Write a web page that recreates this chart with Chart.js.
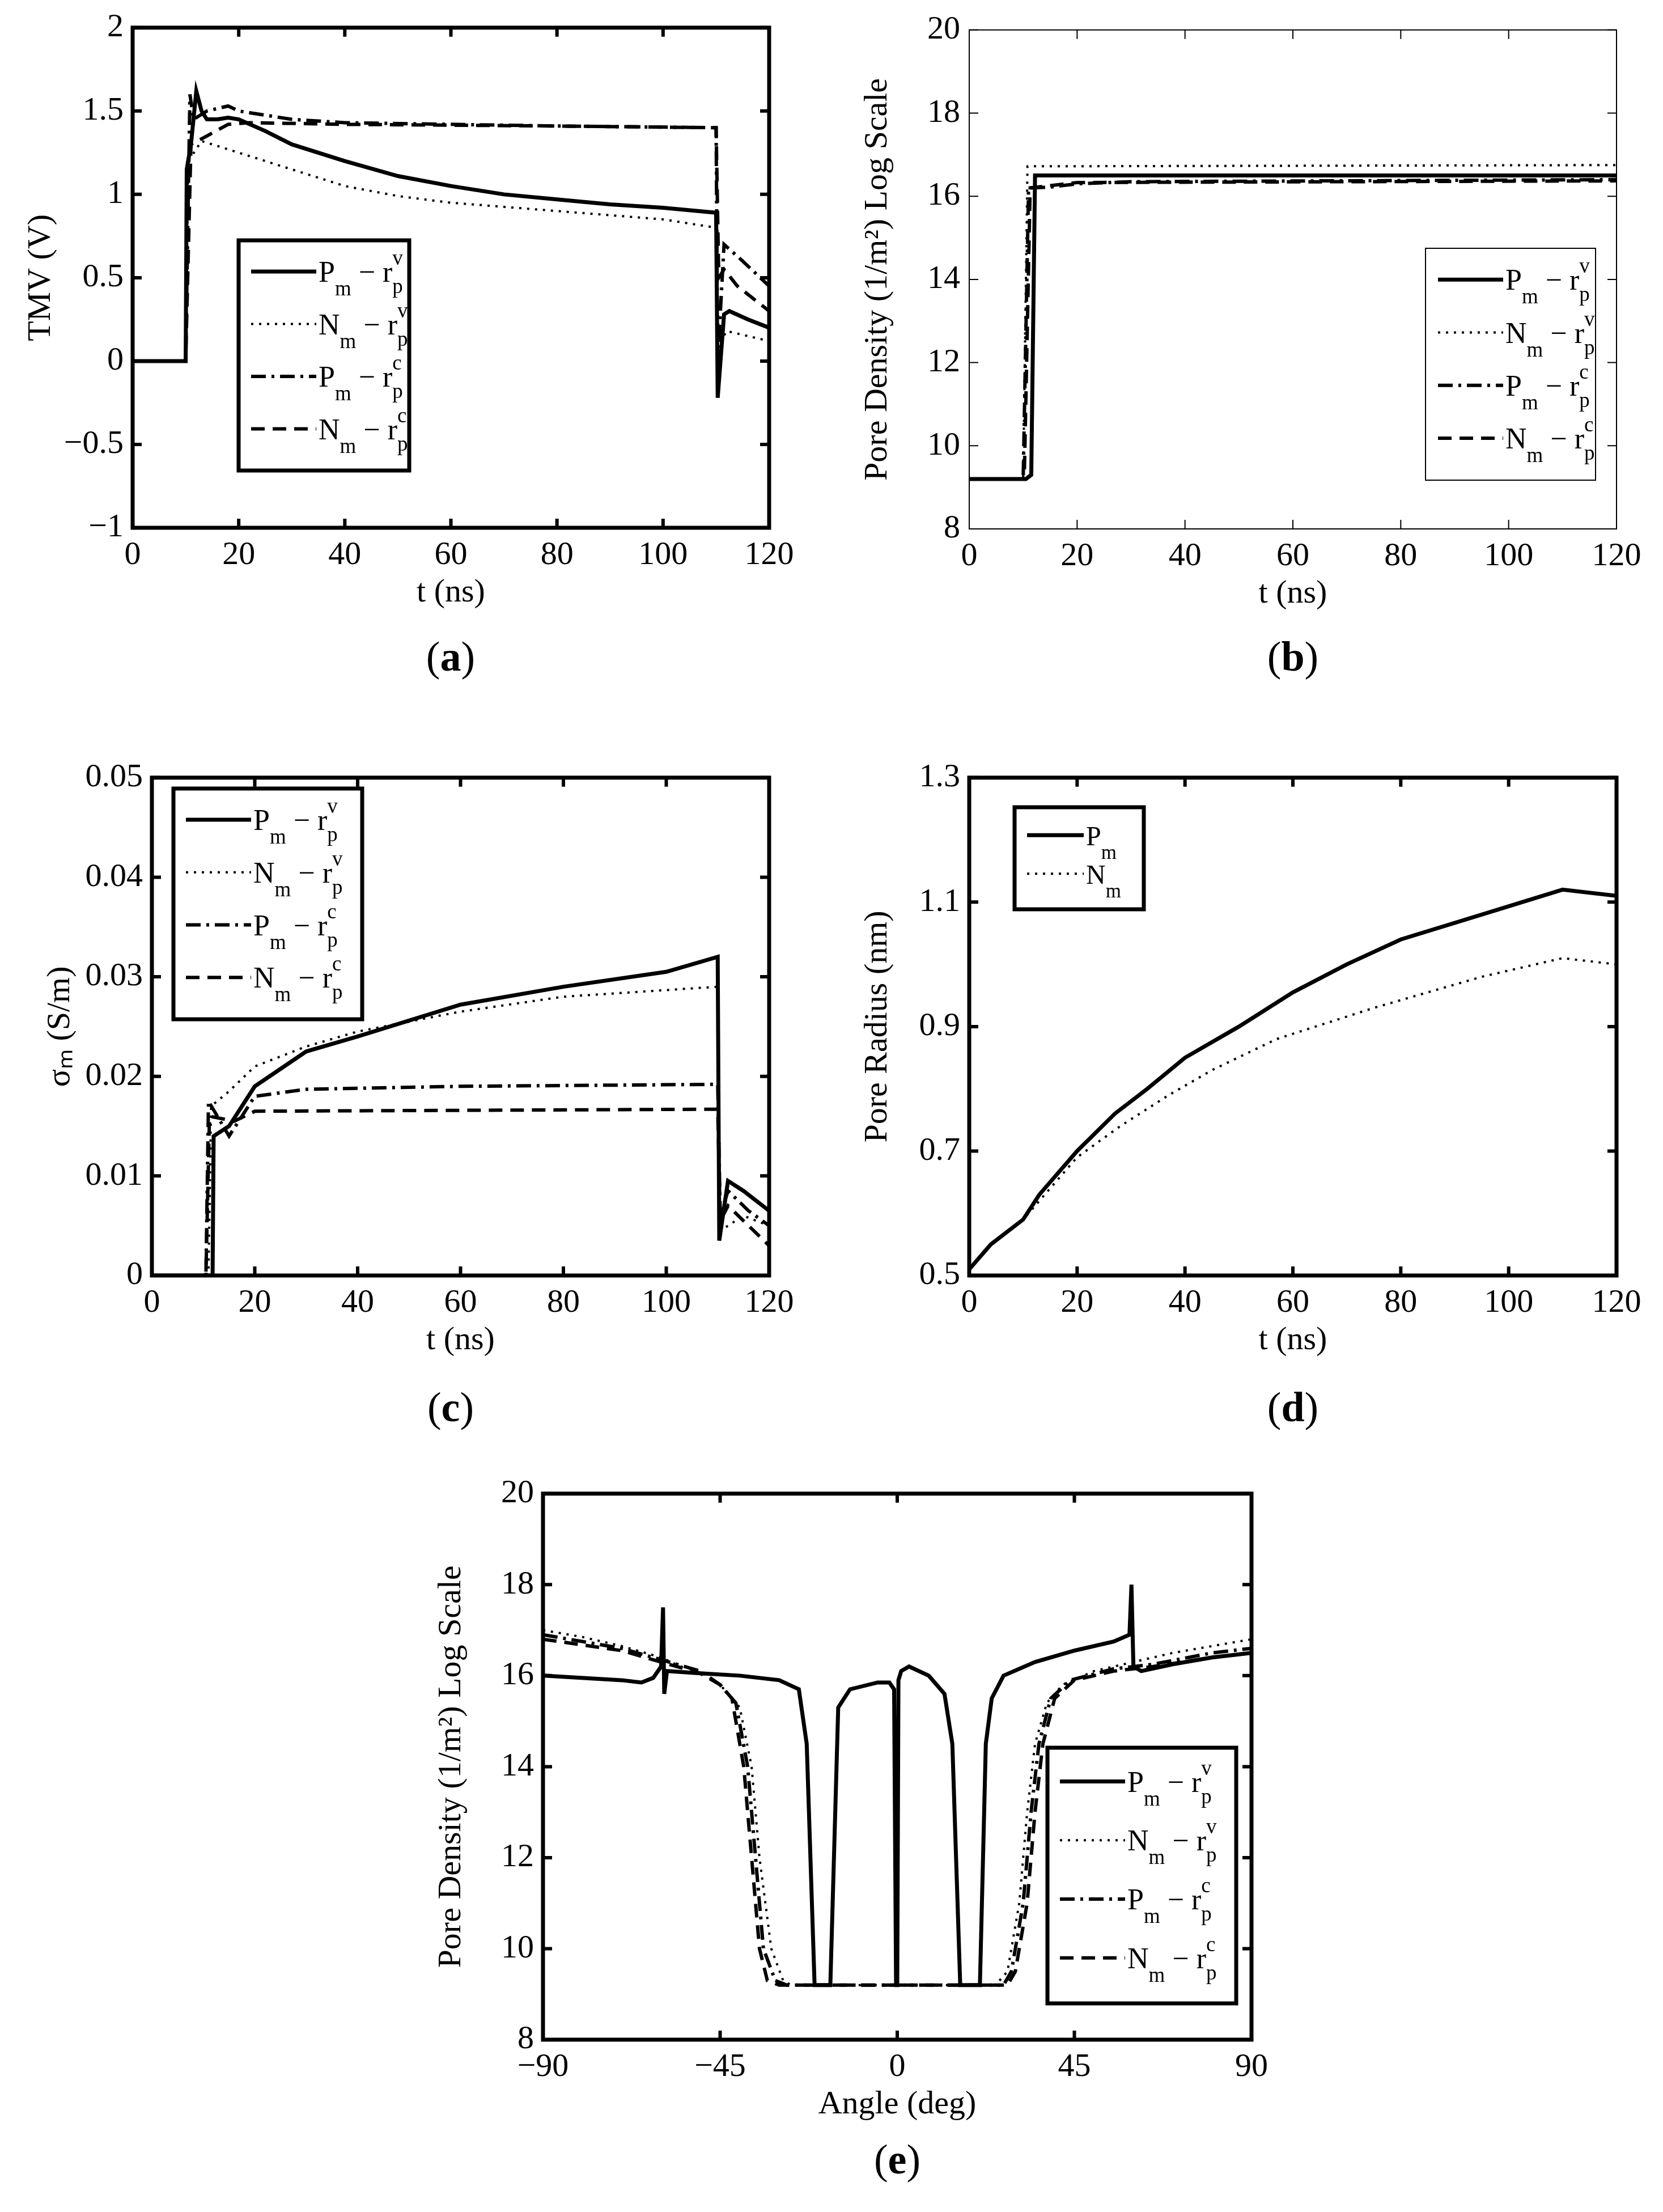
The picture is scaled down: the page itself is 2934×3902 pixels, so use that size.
<!DOCTYPE html>
<html>
<head>
<meta charset="utf-8">
<script src="https://cdn.jsdelivr.net/npm/chart.js@4.4.1/dist/chart.umd.min.js"></script>
<style>
  body { margin: 0; background: #fff; width: 2934px; height: 3902px; position: relative; overflow: hidden; }
  canvas { position: absolute; }
  .lbl { position: absolute; font-family: "Liberation Serif", serif; font-size: 74px; line-height: 90px; transform: translateX(-50%); }
</style>
</head>
<body>
<div class="lbl" style="left:795px;top:1113px">(<b>a</b>)</div>
<div class="lbl" style="left:2281px;top:1113px">(<b>b</b>)</div>
<div class="lbl" style="left:795px;top:2437px">(<b>c</b>)</div>
<div class="lbl" style="left:2281px;top:2437px">(<b>d</b>)</div>
<div class="lbl" style="left:1583px;top:3764px">(<b>e</b>)</div>
<script>
// ---- data ----
// (a) TMV (V) vs t (ns)
const aPvT = [0, 10, 10.2, 11, 12, 13, 14, 16, 18, 20, 25, 30, 40, 50, 60, 70, 80, 90, 100, 110, 110.3, 111.5, 112.5, 116, 120];
const aPvY = [0, 0, 1.15, 1.3, 1.62, 1.5, 1.45, 1.45, 1.46, 1.45, 1.38, 1.3, 1.2, 1.11, 1.05, 1.0, 0.97, 0.94, 0.92, 0.89, -0.22, 0.28, 0.3, 0.25, 0.2];
const aNvT = [0, 10, 10.5, 13, 15, 20, 30, 40, 50, 60, 80, 100, 110, 110.5, 112, 116, 120];
const aNvY = [0, 0, 1.2, 1.32, 1.3, 1.25, 1.15, 1.05, 0.99, 0.95, 0.9, 0.85, 0.8, 0.1, 0.18, 0.15, 0.12];
const aPcT = [0, 10, 10.8, 11.5, 14, 18, 20, 30, 40, 60, 80, 110, 110.3, 111.5, 115, 120];
const aPcY = [0, 0, 1.6, 1.45, 1.5, 1.53, 1.5, 1.45, 1.43, 1.42, 1.41, 1.4, 0.0, 0.7, 0.6, 0.45];
const aNcT = [0, 10, 11, 14, 18, 22, 40, 80, 110, 110.5, 111.5, 114, 120];
const aNcY = [0, 0, 1.3, 1.35, 1.42, 1.43, 1.42, 1.41, 1.4, 0.5, 0.55, 0.45, 0.3];

// (b) pore density (log) vs t (ns)
const bPvT = [0, 10.5, 11.5, 12.2, 120];
const bPvY = [9.2, 9.2, 9.3, 16.5, 16.5];
const bNvT = [0, 10, 10.8, 120];
const bNvY = [9.2, 9.2, 16.72, 16.75];
const bPcT = [0, 10, 11, 15, 20, 30, 120];
const bPcY = [9.2, 9.2, 16.2, 16.22, 16.3, 16.35, 16.4];
const bNcT = [0, 10.2, 11.3, 20, 120];
const bNcY = [9.2, 9.2, 16.2, 16.33, 16.37];

// (c) sigma_m (S/m) vs t (ns)
const cPvT = [0, 11.8, 12, 15, 20, 30, 40, 60, 80, 100, 110, 110.3, 112, 115, 120];
const cPvY = [0, 0, 0.014, 0.015, 0.019, 0.0225, 0.024, 0.0272, 0.029, 0.0305, 0.032, 0.0035, 0.0095, 0.0085, 0.0065];
const cNvT = [0, 11, 11.5, 15, 20, 30, 40, 60, 80, 110, 110.5, 115, 120];
const cNvY = [0, 0, 0.017, 0.0185, 0.021, 0.023, 0.0245, 0.0265, 0.028, 0.029, 0.0045, 0.006, 0.005];
const cPcT = [0, 10.5, 11, 15, 20, 30, 60, 110, 110.5, 112, 116, 120];
const cPcY = [0, 0, 0.0175, 0.014, 0.018, 0.0187, 0.019, 0.0192, 0.006, 0.0085, 0.0065, 0.005];
const cNcT = [0, 10.5, 11.2, 16, 20, 110, 110.5, 112, 120];
const cNcY = [0, 0, 0.016, 0.0155, 0.0165, 0.0167, 0.0055, 0.007, 0.003];

// (d) pore radius (nm) vs t (ns)
const dPT = [0, 4, 10, 13, 20, 27, 33, 40, 50, 60, 70, 80, 95, 110, 120];
const dPY = [0.51, 0.55, 0.59, 0.63, 0.7, 0.76, 0.8, 0.85, 0.9, 0.955, 1.0, 1.04, 1.08, 1.12, 1.11];
const dNT = [0, 4, 10, 15, 20, 28, 37, 45, 57, 75, 95, 110, 120];
const dNY = [0.51, 0.55, 0.59, 0.64, 0.69, 0.74, 0.79, 0.83, 0.88, 0.93, 0.98, 1.01, 1.0];

// (e) pore density (log) vs angle (deg)
const ePvA = [-90, -70, -65, -62, -60, -59.5, -59.2, -58.5, -50, -40, -30, -25, -23, -21, -17, -15, -12, -5, -2, -0.8, -0.3, 0, 0.3, 1, 3, 8, 12, 14, 16, 21, 22.5, 24, 27, 35, 45, 55, 59, 59.5, 60, 62, 70, 80, 90];
const ePvY = [16.0, 15.9, 15.85, 15.95, 16.2, 17.5, 15.6, 16.1, 16.05, 16.0, 15.9, 15.7, 14.5, 9.2, 9.2, 15.3, 15.7, 15.85, 15.85, 15.7, 9.2, 9.2, 15.9, 16.1, 16.2, 16.0, 15.6, 14.5, 9.2, 9.2, 14.5, 15.5, 16.0, 16.3, 16.55, 16.75, 16.9, 18.0, 16.2, 16.1, 16.25, 16.4, 16.5];
const eNvA = [-90, -80, -70, -60, -55, -50, -45, -40, -37, -35, -32, -29, -27, 25, 28, 31, 33, 35, 38, 42, 50, 60, 70, 80, 90];
const eNvY = [17.0, 16.85, 16.65, 16.4, 16.2, 16.1, 15.8, 15.3, 14, 12, 10, 9.3, 9.2, 9.2, 9.5, 11, 13, 14.5, 15.4, 15.8, 16.1, 16.3, 16.5, 16.65, 16.8];
const ePcA = [-90, -70, -60, -50, -45, -41, -38, -36, -34, -31, -28, 27, 29, 32, 34, 36, 39, 44, 55, 65, 80, 90];
const ePcY = [16.9, 16.6, 16.35, 16.1, 15.8, 15.4, 14, 12, 10, 9.3, 9.2, 9.2, 9.5, 11, 13, 14.5, 15.5, 15.9, 16.15, 16.25, 16.5, 16.6];
const eNcA = [-90, -70, -60, -50, -45, -42, -39, -37, -35, -33, -30, 28, 30, 33, 35, 37, 40, 45, 55, 65, 80, 90];
const eNcY = [16.8, 16.55, 16.3, 16.05, 15.8, 15.5, 14, 12, 10, 9.3, 9.2, 9.2, 9.5, 11, 13, 14.5, 15.5, 15.9, 16.1, 16.2, 16.4, 16.5];

// ---- styles ----
const FONT = '"Liberation Serif", serif';
const STY = {
  solid:   { borderWidth: 7, borderDash: [] },
  dotted:  { borderWidth: 4, borderDash: [4, 10] },
  dashdot: { borderWidth: 6, borderDash: [26, 10, 5, 10] },
  dashed:  { borderWidth: 6, borderDash: [24, 14] }
};
const LEG4 = [
  { s: 'solid', main: 'P', lead: ' \u2212 r', sup: 'v' },
  { s: 'dotted', main: 'N', lead: ' \u2212 r', sup: 'v' },
  { s: 'dashdot', main: 'P', lead: ' \u2212 r', sup: 'c' },
  { s: 'dashed', main: 'N', lead: ' \u2212 r', sup: 'c' }
];
const LEG2 = [
  { s: 'solid', main: 'P' },
  { s: 'dotted', main: 'N' }
];

function pts(xs, ys) { return xs.map((x, i) => ({ x, y: ys[i] })); }
function ds(xs, ys, s) {
  return Object.assign({ data: pts(xs, ys), borderColor: '#000', pointRadius: 0, tension: 0, fill: false }, STY[s]);
}

const framePlugin = {
  id: 'frame',
  afterDatasetsDraw(chart, args, opts) {
    const ctx = chart.ctx, a = chart.chartArea;
    const fw = opts.frameWidth || 7;
    ctx.save();
    ctx.strokeStyle = '#000';
    ctx.setLineDash([]);
    ctx.lineWidth = fw > 4 ? 6 : 2;
    const tl = 16;
    chart.scales.x.ticks.forEach(t => {
      const px = chart.scales.x.getPixelForValue(t.value);
      ctx.beginPath(); ctx.moveTo(px, a.bottom); ctx.lineTo(px, a.bottom - tl);
      ctx.moveTo(px, a.top); ctx.lineTo(px, a.top + tl); ctx.stroke();
    });
    chart.scales.y.ticks.forEach(t => {
      const py = chart.scales.y.getPixelForValue(t.value);
      ctx.beginPath(); ctx.moveTo(a.left, py); ctx.lineTo(a.left + tl, py);
      ctx.moveTo(a.right, py); ctx.lineTo(a.right - tl, py); ctx.stroke();
    });
    ctx.lineWidth = fw;
    ctx.strokeRect(a.left, a.top, a.right - a.left, a.bottom - a.top);

    // legend with sub/superscripts
    const L = opts.legend;
    if (L) {
      const bx = L.x - chart.canvas.offsetLeft, by = L.y - chart.canvas.offsetTop;
      ctx.fillStyle = '#fff';
      ctx.fillRect(bx, by, L.w, L.h);
      ctx.lineWidth = L.bw;
      ctx.strokeRect(bx, by, L.w, L.h);
      const pad = L.items.length > 2 ? 18 : 22;
      const rowH = (L.h - 2 * pad) / L.items.length;
      L.items.forEach((it, i) => {
        const cy = by + pad + rowH * (i + 0.4);
        const st = STY[it.s];
        ctx.lineWidth = st.borderWidth;
        ctx.setLineDash(st.borderDash);
        ctx.beginPath(); ctx.moveTo(bx + 22, cy); ctx.lineTo(bx + 22 + L.sw, cy); ctx.stroke();
        ctx.setLineDash([]);
        ctx.fillStyle = '#000';
        ctx.textBaseline = 'alphabetic';
        let x = bx + 26 + L.sw;
        const base = cy + 18;
        ctx.font = L.fs + 'px ' + FONT;
        ctx.fillText(it.main, x, base); x += ctx.measureText(it.main).width;
        ctx.font = Math.round(L.fs * 0.72) + 'px ' + FONT;
        ctx.fillText('m', x, base + 24); const mw = ctx.measureText('m').width;
        if (it.lead) {
          x += mw;
          ctx.font = L.fs + 'px ' + FONT;
          ctx.fillText(it.lead, x, base); x += ctx.measureText(it.lead).width;
          ctx.font = Math.round(L.fs * 0.72) + 'px ' + FONT;
          ctx.fillText(it.sup, x, base - 30);
          ctx.fillText('p', x, base + 20);
        }
      });
    }
    ctx.restore();
  }
};

function makePanel(plot, xr, yr, xTitle, yTitle, datasets, legend, frameWidth) {
  const padL = 200, padT = 40, padR = 80, padB = 150;
  const c = document.createElement('canvas');
  const w = padL + plot.w + padR, h = padT + plot.h + padB;
  c.width = w; c.height = h;
  c.style.left = (plot.x - padL) + 'px';
  c.style.top = (plot.y - padT) + 'px';
  c.style.width = w + 'px'; c.style.height = h + 'px';
  document.body.appendChild(c);
  const tickFont = { family: FONT, size: 58 };
  new Chart(c, {
    type: 'line',
    data: { datasets },
    options: {
      responsive: false, animation: false, devicePixelRatio: 1,
      layout: { padding: { top: padT, right: padR, left: 0, bottom: 0 } },
      plugins: { legend: { display: false }, tooltip: { enabled: false }, frame: { legend, frameWidth } },
      scales: {
        x: {
          type: 'linear', min: xr[0], max: xr[1],
          grid: { display: false }, border: { display: false },
          ticks: { stepSize: xr[2], font: tickFont, color: '#000', padding: 6, maxRotation: 0, autoSkip: false,
                   callback: v => (v < 0 ? '\u2212' + Math.abs(v) : String(v)) },
          title: { display: true, text: xTitle, font: tickFont, color: '#000', padding: { top: 0, bottom: 0 } },
          afterFit: s => { s.height = padB; }
        },
        y: {
          type: 'linear', min: yr[0], max: yr[1],
          grid: { display: false }, border: { display: false },
          ticks: { stepSize: yr[2], font: tickFont, color: '#000', padding: 8, autoSkip: false,
                   callback: v => (v < 0 ? '\u2212' + Math.abs(v) : String(+v.toFixed(3))) },
          title: { display: true, text: yTitle, font: tickFont, color: '#000', padding: { bottom: 2 } },
          afterFit: s => { s.width = padL; }
        }
      }
    },
    plugins: [framePlugin]
  });
}

// (a)
makePanel({ x: 234, y: 46, w: 1123, h: 885 }, [0, 120, 20], [-1, 2, 0.5],
  't (ns)', 'TMV (V)',
  [ds(aPvT, aPvY, 'solid'), ds(aNvT, aNvY, 'dotted'), ds(aPcT, aPcY, 'dashdot'), ds(aNcT, aNcY, 'dashed')],
  { x: 421, y: 424, w: 301, h: 406, bw: 7, sw: 115, fs: 52, items: LEG4 }, 7);

// (b)
makePanel({ x: 1710, y: 50, w: 1142, h: 883 }, [0, 120, 20], [8, 20, 2],
  't (ns)', 'Pore Density (1/m\u00b2) Log Scale',
  [ds(bPvT, bPvY, 'solid'), ds(bNvT, bNvY, 'dotted'), ds(bPcT, bPcY, 'dashdot'), ds(bNcT, bNcY, 'dashed')],
  { x: 2515, y: 438, w: 300, h: 409, bw: 2, sw: 115, fs: 52, items: LEG4 }, 2);

// (c)
makePanel({ x: 268, y: 1369, w: 1089, h: 881 }, [0, 120, 20], [0, 0.05, 0.01],
  't (ns)', '\u03c3\u2098 (S/m)',
  [ds(cPvT, cPvY, 'solid'), ds(cNvT, cNvY, 'dotted'), ds(cPcT, cPcY, 'dashdot'), ds(cNcT, cNcY, 'dashed')],
  { x: 306, y: 1391, w: 333, h: 407, bw: 7, sw: 115, fs: 52, items: LEG4 }, 7);

// (d)
makePanel({ x: 1710, y: 1369, w: 1142, h: 881 }, [0, 120, 20], [0.5, 1.3, 0.2],
  't (ns)', 'Pore Radius (nm)',
  [ds(dPT, dPY, 'solid'), ds(dNT, dNY, 'dotted')],
  { x: 1790, y: 1424, w: 228, h: 180, bw: 7, sw: 100, fs: 48, items: LEG2 }, 7);

// (e)
makePanel({ x: 958, y: 2632, w: 1250, h: 966 }, [-90, 90, 45], [8, 20, 2],
  'Angle (deg)', 'Pore Density (1/m\u00b2) Log Scale',
  [ds(ePvA, ePvY, 'solid'), ds(eNvA, eNvY, 'dotted'), ds(ePcA, ePcY, 'dashdot'), ds(eNcA, eNcY, 'dashed')],
  { x: 1848, y: 3083, w: 333, h: 451, bw: 7, sw: 115, fs: 52, items: LEG4 }, 7);
</script>
</body>
</html>
